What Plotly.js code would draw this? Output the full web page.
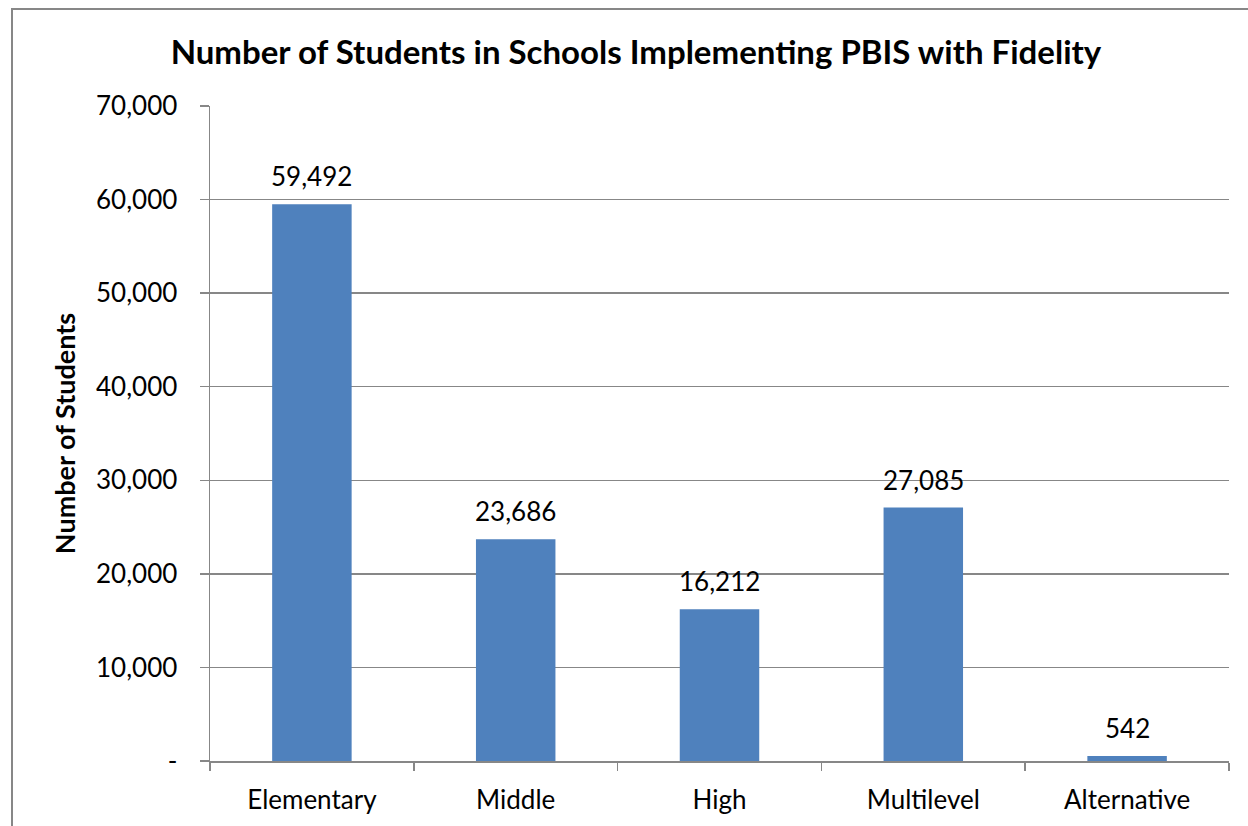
<!DOCTYPE html>
<html>
<head>
<meta charset="utf-8">
<script src="https://cdn.plot.ly/plotly-3.0.1.min.js"></script>
<style>
  html, body { margin: 0; padding: 0; background: #ffffff; }
  #frame { position: absolute; left: 11px; top: 8px; width: 1260px; height: 840px;
           border: 2px solid #878787; box-sizing: border-box; }
  #chart { position: absolute; left: 0; top: 0; width: 1248px; height: 826px; }
</style>
</head>
<body>
<div id="frame"></div>
<div id="chart"></div>
<script>
// School levels and enrolled students in schools implementing PBIS with fidelity
const categories = ["Elementary", "Middle", "High", "Multilevel", "Alternative"];
const students = [59492, 23686, 16212, 27085, 542];
const yTickValues = [0, 10000, 20000, 30000, 40000, 50000, 60000, 70000];
const yTickLabels = ["-", "10,000", "20,000", "30,000", "40,000", "50,000", "60,000", "70,000"];

const FONT = "Lato, 'Open Sans', sans-serif";
const GRID = "#878787";

const trace = {
  type: "bar",
  x: categories,
  y: students,
  marker: { color: "#4F81BD" },
  hoverinfo: "x+y"
};

// Value labels sit above each bar
const labels = categories.map((c, i) => ({
  x: c,
  y: students[i],
  xref: "x",
  yref: "y",
  text: students[i].toLocaleString("en-US"),
  showarrow: false,
  yanchor: "bottom",
  yshift: 10,
  font: { family: FONT, size: 26, color: "#000000" }
}));

const layout = {
  width: 1248,
  height: 826,
  paper_bgcolor: "rgba(0,0,0,0)",
  plot_bgcolor: "rgba(0,0,0,0)",
  margin: { l: 210, r: 19, t: 106, b: 65, pad: 0 },
  showlegend: false,
  bargap: 0.61,
  title: {
    text: "<b>Number of Students in Schools Implementing PBIS with Fidelity</b>",
    font: { family: FONT, size: 33, color: "#000000" },
    x: 0.418, xref: "paper", xanchor: "center",
    y: 0.937, yref: "container", yanchor: "middle"
  },
  xaxis: {
    type: "category",
    tickson: "boundaries",
    ticks: "outside",
    ticklen: 8,
    tickcolor: GRID,
    tickwidth: 1.5,
    showline: true,
    linecolor: GRID,
    linewidth: 1.5,
    showgrid: false,
    ticklabelstandoff: 15,
    tickfont: { family: FONT, size: 26, color: "#000000" }
  },
  yaxis: {
    range: [0, 70000],
    tickvals: yTickValues,
    ticktext: yTickLabels,
    ticks: "outside",
    ticklen: 9,
    tickcolor: GRID,
    tickwidth: 1.5,
    showline: true,
    linecolor: GRID,
    linewidth: 1.5,
    showgrid: true,
    gridcolor: GRID,
    gridwidth: 1.5,
    zeroline: false,
    ticklabelstandoff: 17,
    tickfont: { family: FONT, size: 26, color: "#000000" },
    title: {
      text: "<b>Number of Students</b>",
      font: { family: FONT, size: 27, color: "#000000" },
      standoff: 12
    }
  },
  annotations: labels
};

Plotly.newPlot("chart", [trace], layout, { displayModeBar: false, staticPlot: true });
</script>
</body>
</html>
